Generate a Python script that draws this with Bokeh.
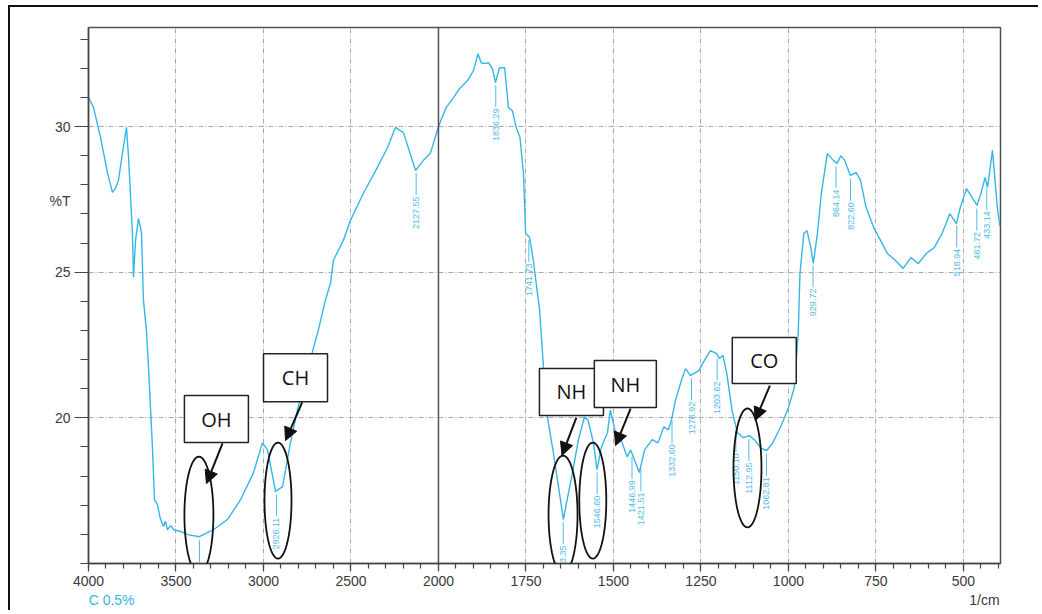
import numpy as np
from bokeh.plotting import figure
from bokeh.models import (FixedTicker, Span, Arrow, NormalHead, ColumnDataSource, Range1d,
                          PolyAnnotation, LinearAxis)
from bokeh.core.properties import value
from bokeh.embed import file_html
from bokeh.resources import INLINE

# ---------------- data ----------------
wavenumber = [4000, 3971, 3931, 3891, 3863, 3846, 3829, 3806, 3783, 3771, 3749, 3743, 3731, 3714,
              3697, 3686, 3669, 3657, 3634, 3623, 3606, 3590, 3571, 3560, 3549, 3530, 3514, 3474,
              3434, 3366, 3286, 3206, 3131, 3057, 3006, 2977, 2931, 2891, 2846, 2806, 2749, 2691,
              2646, 2617, 2600, 2543, 2503, 2429, 2349, 2291, 2246, 2200, 2131, 2086, 2046, 2000,
              1978, 1957, 1940, 1917, 1900, 1887, 1878, 1867, 1857, 1846, 1837, 1826, 1811, 1800,
              1789, 1778, 1767, 1757, 1751, 1740, 1729, 1711, 1700, 1689, 1673, 1657, 1643, 1634,
              1617, 1600, 1583, 1573, 1557, 1547, 1534, 1517, 1509, 1494, 1478, 1461, 1451, 1440,
              1426, 1411, 1389, 1373, 1356, 1343, 1334, 1323, 1306, 1294, 1280, 1256, 1240, 1223,
              1206, 1197, 1187, 1176, 1161, 1146, 1129, 1112, 1095, 1078, 1062, 1046, 1023, 1000,
              983, 972, 967, 956, 947, 936, 929, 917, 906, 889, 871, 861, 850, 839, 823, 806, 794,
              778, 756, 740, 717, 694, 672, 650, 629, 606, 583, 561, 539, 520, 509, 491, 475, 461,
              450, 438, 431, 417, 403, 396]
transmittance = [31.00, 30.65, 29.62, 28.39, 27.74, 27.88, 28.15, 29.08, 29.97, 28.94, 26.34, 24.83, 26.10, 26.85,
                 26.34, 24.04, 23.01, 21.75, 18.90, 17.19, 17.02, 16.55, 16.27, 16.45, 16.16, 16.30, 16.16, 16.10,
                 15.99, 15.92, 16.16, 16.51, 17.19, 18.12, 19.14, 18.90, 17.47, 17.64, 19.14, 20.27, 21.64, 22.91,
                 24.04, 24.62, 25.41, 26.10, 26.78, 27.71, 28.60, 29.28, 29.97, 29.79, 28.49, 28.84, 29.08, 30.00,
                 30.65, 30.99, 31.30, 31.58, 31.92, 32.50, 32.19, 32.16, 32.19, 31.99, 31.51, 32.02, 32.02, 30.65,
                 30.55, 29.97, 29.62, 28.39, 26.34, 26.20, 25.41, 23.70, 21.75, 20.03, 18.90, 17.64, 16.51, 17.09,
                 18.12, 19.25, 20.03, 19.93, 19.14, 18.22, 19.01, 19.49, 20.27, 19.49, 19.25, 18.66, 18.90, 18.56,
                 18.12, 18.90, 19.25, 19.14, 19.69, 19.59, 19.93, 20.59, 21.28, 21.69, 21.45, 21.62, 21.97, 22.31,
                 22.21, 22.04, 22.14, 21.52, 20.25, 19.50, 19.32, 19.39, 19.22, 18.95, 18.88, 19.12, 19.67, 20.35,
                 21.04, 22.89, 24.95, 26.33, 26.43, 25.85, 25.30, 26.33, 27.70, 29.07, 28.83, 28.73, 29.00, 28.83,
                 28.32, 28.42, 28.15,
                 27.22, 26.53, 26.16, 25.64, 25.40, 25.13, 25.50, 25.30, 25.64, 25.85, 26.33, 27.01, 26.67, 27.22,
                 27.87, 27.56, 27.29,
                 27.70, 28.25, 27.91, 29.18, 27.22, 26.60]

peak_wavenumber = [3365.78, 2926.11, 2127.55, 1836.29, 1741.73, 1643.35, 1546.60, 1446.99, 1421.51,
                   1332.60, 1276.92, 1203.62, 1150.10, 1112.95, 1062.81, 929.72, 864.14, 822.60,
                   518.94, 461.72, 433.14]
peak_text = ["3365.78", "2926.11", "2127.55", "1836.29", "1741.73", "1643.35", "1546.60", "1446.99",
             "1421.51", "1332.60", "1276.92", "1203.62", "1150.10", "1112.95", "1062.81", "929.72",
             "864.14", "822.60", "518.94", "461.72", "433.14"]

group_names = ["OH", "CH", "NH", "NH", "CO"]
group_box_wn = [3269, 2817, 1620, 1466, 1069]
group_box_T = [19.96, 21.38, 20.89, 21.16, 21.97]
group_ell_wn = [3369, 2917, 1644, 1559, 1117]
group_ell_T = [16.66, 17.16, 16.68, 17.16, 18.28]
arrow_start_wn = [3234, 2779, 1606, 1451, 1053]
arrow_start_T = [19.12, 20.53, 20.01, 20.32, 21.11]
arrow_end_wn = [3326, 2874, 1647, 1494, 1095]
arrow_end_T = [17.74, 19.22, 18.71, 19.05, 19.91]

xtick_wn = [4000, 3500, 3000, 2500, 2000, 1750, 1500, 1250, 1000, 750, 500]
ytick_vals = [20, 25, 30]
y_title = "%T"
x_unit = "1/cm"
sample_note = "C 0.5%"

# ---------------- helpers ----------------
def to_axis(w):
    """Instrument chart: 4000-2000 at half scale, 2000-400 at full scale."""
    w = np.asarray(w, dtype=float)
    return np.where(w >= 2000, (4000.0 - w) / 2.0, 1000.0 + (2000.0 - w))

X_MAX = 2606.0
Y_MIN, Y_MAX = 15.0, 33.4
FRAME_W, FRAME_H = 912, 536
PX_X = FRAME_W / X_MAX            # screen px per axis unit
PX_Y = FRAME_H / (Y_MAX - Y_MIN)  # screen px per %T

CURVE = "#35b6e6"
LABEL_C = "#4dbbe8"
TXT = "#3a3a3a"
AX = "#444444"

p = figure(width=1030, height=605, output_backend="svg", toolbar_location=None, title=None,
           x_range=Range1d(0, X_MAX), y_range=Range1d(Y_MIN, Y_MAX),
           min_border_left=78, min_border_right=40, min_border_top=20, min_border_bottom=49)
p.styles = {"border-top": "2px solid #111", "border-left": "2px solid #111",
            "margin-left": "8px", "margin-top": "5px"}
p.background_fill_color = "white"
p.border_fill_color = "white"
p.outline_line_color = "#505050"
p.outline_line_width = 1.5

# --- main x axis: ticks and wavenumber labels
xt = [float(v) for v in to_axis(xtick_wn)]
xminor = [float(v) for v in np.arange(0, X_MAX, 50)]
xa = p.xaxis[0]
xa.ticker = FixedTicker(ticks=xt, minor_ticks=xminor)
xa.major_label_overrides = {v: str(w) for v, w in zip(xt, xtick_wn)}
xa.major_tick_out = 8
xa.minor_tick_out = 5
xa.major_label_standoff = 4

# --- main y axis: tick marks only (labels on the outer axis)
ya = p.yaxis[0]
ya.ticker = FixedTicker(ticks=ytick_vals, minor_ticks=list(range(15, 34)))
ya.major_label_overrides = {v: "" for v in ytick_vals}
ya.major_tick_out = 14
ya.minor_tick_out = 8
ya.major_label_standoff = 0

for ax in (xa, ya):
    ax.axis_line_color = AX
    ax.axis_line_width = 1.5
    ax.major_tick_line_color = AX
    ax.minor_tick_line_color = AX
    ax.major_tick_line_width = 1.2
    ax.minor_tick_line_width = 1.2
    ax.major_tick_in = 0
    ax.minor_tick_in = 0
    ax.major_label_text_font = "Liberation Sans"
    ax.major_label_text_font_size = "14px"
    ax.major_label_text_color = TXT

def caption_axis(ticks, overrides, color, standoff):
    a = LinearAxis(ticker=FixedTicker(ticks=ticks, minor_ticks=[]),
                   major_label_overrides=overrides)
    a.axis_line_color = None
    a.major_tick_line_color = None
    a.minor_tick_line_color = None
    a.major_tick_out = 0
    a.minor_tick_out = 0
    a.major_tick_in = 0
    a.minor_tick_in = 0
    a.major_label_standoff = standoff
    a.major_label_text_font = "Liberation Sans"
    a.major_label_text_font_size = "14px"
    a.major_label_text_color = color
    return a

# y labels plus the "%T" caption, right aligned in the same column
ylab_pos = [20.0, 25.0, 27.46, 30.0]
ylab_txt = {20.0: "20", 25.0: "25", 27.46: y_title, 30.0: "30"}
p.add_layout(caption_axis(ylab_pos, ylab_txt, TXT, 4), "left")

# bottom captions: sample note (cyan, left) and unit (grey, right) on one row
p.add_layout(caption_axis([66.0], {66.0: sample_note}, CURVE, 3), "below")
p.add_layout(caption_axis([2560.0], {2560.0: x_unit}, TXT, -19), "below")

# grids
p.xgrid.ticker = FixedTicker(ticks=[v for v in xt if v not in (0.0, 1000.0)])
p.ygrid.ticker = FixedTicker(ticks=ytick_vals)
for g in (p.xgrid, p.ygrid):
    g.grid_line_color = "#a8a8a8"
    g.grid_line_dash = "5 2 1 2"
    g.grid_line_width = 1

p.add_layout(Span(location=1000, dimension="height", line_color="#505050", line_width=1.5))

# spectrum
p.line(to_axis(wavenumber), transmittance, line_color=CURVE, line_width=1.4)

# peak labels with leader lines
wn_inc = np.array(wavenumber[::-1], dtype=float)
tr_inc = np.array(transmittance[::-1], dtype=float)
peak_T = np.interp(peak_wavenumber, wn_inc, tr_inc)
lead_top = peak_T - 0.12
lead_bot = lead_top - 0.75
px = to_axis(peak_wavenumber)
p.segment(x0=px, y0=lead_top, x1=px, y1=lead_bot, line_color=LABEL_C, line_width=1)
p.text(x=px, y=lead_bot - 0.05, text=peak_text, angle=np.pi / 2, text_align="right",
       text_baseline="middle", text_font=value("Liberation Sans"), text_font_size="9px",
       text_color=LABEL_C)

# ellipses around bands
ell_w = [29, 27, 29, 27, 28]
ell_h = [117, 116, 118, 116, 119]
theta = np.linspace(0, 2 * np.pi, 73)
for cx, cy, ew, eh in zip(to_axis(group_ell_wn), group_ell_T, ell_w, ell_h):
    xs = cx + (ew / 2.0) / PX_X * np.cos(theta)
    ys = cy + (eh / 2.0) / PX_Y * np.sin(theta)
    p.add_layout(PolyAnnotation(xs=list(xs), ys=list(ys), fill_alpha=0.0,
                                line_color="#111111", line_alpha=1.0, line_width=1.8))

# arrows
asrc = ColumnDataSource(dict(x0=to_axis(arrow_start_wn), y0=arrow_start_T,
                             x1=to_axis(arrow_end_wn), y1=arrow_end_T))
p.add_layout(Arrow(end=NormalHead(size=13, fill_color="#111111", line_color="#111111"),
                   x_start="x0", y_start="y0", x_end="x1", y_end="y1", source=asrc,
                   line_color="#111111", line_width=2))

# boxes with group names
box_w = [64, 64, 64, 62, 64]
box_h = [47, 48, 47, 47, 46]
bx = to_axis(group_box_wn)
p.rect(x=bx, y=group_box_T, width=box_w, height=box_h, width_units="screen",
       height_units="screen", fill_color="white", line_color="#222222", line_width=1.5)
p.text(x=bx, y=group_box_T, text=group_names, text_align="center", text_baseline="middle",
       text_font=value("Open Sans"), text_font_size="20px", text_color="#111111")

open("out.html", "w").write(file_html(p, INLINE))
